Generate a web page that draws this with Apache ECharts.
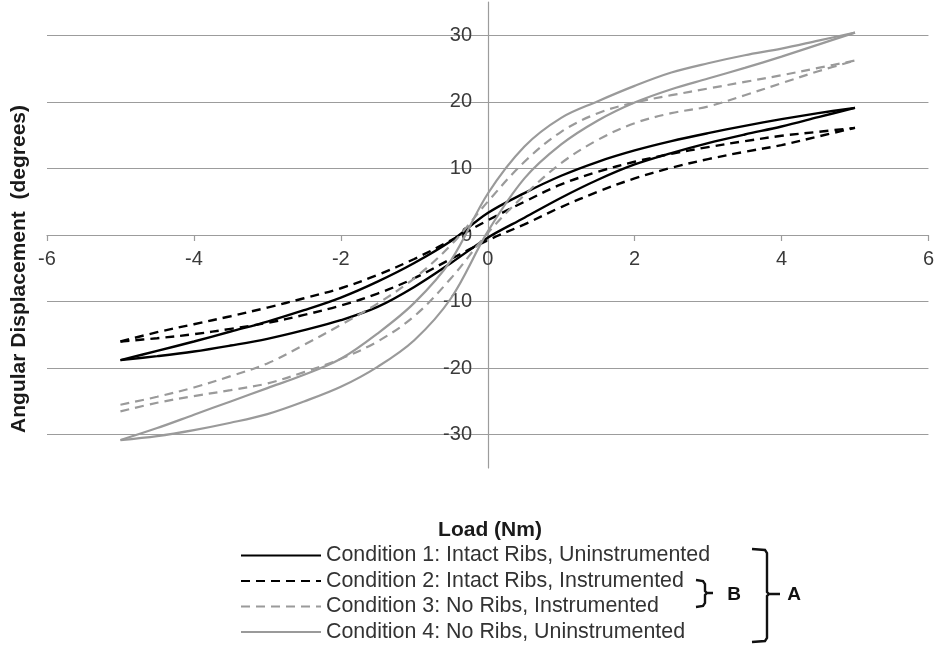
<!DOCTYPE html>
<html>
<head>
<meta charset="utf-8">
<script src="https://cdn.jsdelivr.net/npm/echarts@6/dist/echarts.min.js"></script>
<style>
  html, body { margin: 0; padding: 0; background: #fff; }
  #chart { width: 937px; height: 647px; }
</style>
</head>
<body>
<div id="chart"></div>
<script>
// Applied load steps (Nm), shared by every branch
const loads = [-5, -4.5, -4, -3.5, -3, -2.5, -2, -1.5, -1, -0.5, 0, 0.5, 1, 1.5, 2, 2.5, 3, 3.5, 4, 4.5, 5];

// Angular displacement (degrees) at each load step:
// "loading" = lower branch of the loop, "unloading" = upper branch
const cond1Loading   = [-18.8, -18.2, -17.5, -16.6, -15.6, -14.3, -12.8, -10.8, -7.8, -4.2, -0.4, 2.6, 5.6, 8.3, 10.6, 12.3, 13.8, 15.1, 16.3, 17.7, 19.1];
const cond1Unloading = [-18.8, -17.4, -16.0, -14.5, -13.0, -11.3, -9.4, -7.0, -4.2, -0.9, 3.3, 6.3, 8.9, 11.0, 12.7, 14.1, 15.3, 16.4, 17.4, 18.3, 19.1];

const cond2Loading   = [-16.0, -15.5, -14.9, -14.1, -13.2, -12.0, -10.6, -8.8, -6.5, -3.6, -0.8, 1.6, 4.2, 6.5, 8.5, 10.1, 11.4, 12.5, 13.5, 14.8, 16.1];
const cond2Unloading = [-16.0, -14.6, -13.4, -12.2, -10.9, -9.5, -8.0, -6.0, -3.6, -0.8, 2.2, 5.0, 7.6, 9.5, 11.0, 12.2, 13.2, 14.1, 14.9, 15.5, 16.1];

const cond3Loading   = [-26.5, -25.2, -24.2, -23.3, -22.3, -20.6, -18.6, -16.0, -12.2, -6.5, 0.3, 6.0, 10.8, 14.3, 16.8, 18.3, 19.3, 21.0, 22.8, 24.6, 26.2];
const cond3Unloading = [-25.5, -24.3, -22.9, -21.2, -19.3, -16.5, -13.5, -10.3, -6.5, -1.5, 5.0, 11.0, 15.5, 18.3, 19.9, 21.0, 22.0, 23.0, 24.0, 25.1, 26.2];

const cond4Loading   = [-30.8, -30.2, -29.3, -28.2, -26.9, -25.0, -22.8, -19.8, -15.8, -9.5, 0.5, 8.5, 13.6, 17.2, 19.9, 21.9, 23.5, 25.1, 26.8, 28.6, 30.4];
const cond4Unloading = [-30.8, -29.0, -27.0, -25.0, -23.0, -21.0, -18.6, -14.8, -10.2, -3.8, 6.2, 13.3, 17.6, 20.1, 22.4, 24.4, 25.8, 27.0, 28.0, 29.2, 30.4];

const conditionNames = [
  'Condition 1: Intact Ribs, Uninstrumented',
  'Condition 2: Intact Ribs, Instrumented',
  'Condition 3: No Ribs, Instrumented',
  'Condition 4: No Ribs, Uninstrumented'
];

const xTicks = { min: -6, max: 6, step: 2 };
const yTicks = { min: -35, max: 35, step: 5 };

const FONT = '"Liberation Sans", Arial, sans-serif';
const GRID_GRAY = '#9c9c9c';

// plot box in pixels
const PLOT = { left: 47, top: 2, width: 882, height: 466 };

const pairs = (ys) => loads.map((x, i) => [x, ys[i]]);

const styles = [
  { color: '#000000', type: 'solid', width: 2.4 },
  { color: '#000000', type: [9, 6], width: 2.4 },
  { color: '#9a9a9a', type: [9, 6], width: 2.2 },
  { color: '#9a9a9a', type: 'solid', width: 2.2 }
];

const branches = [
  [cond1Loading, cond1Unloading],
  [cond2Loading, cond2Unloading],
  [cond3Loading, cond3Unloading],
  [cond4Loading, cond4Unloading]
];

const series = [];
branches.forEach((pair, k) => {
  pair.forEach((ys) => {
    series.push({
      name: conditionNames[k],
      type: 'line',
      data: pairs(ys),
      smooth: 0.35,
      symbol: 'none',
      silent: true,
      lineStyle: { color: styles[k].color, type: styles[k].type, width: styles[k].width },
      itemStyle: { color: styles[k].color }
    });
  });
});

// the axes cross at the origin: shift each one from the plot edge to zero
const xZeroShift = -PLOT.height * (0 - yTicks.min) / (yTicks.max - yTicks.min);
const yZeroShift = -PLOT.width * (0 - xTicks.min) / (xTicks.max - xTicks.min);

const chart = echarts.init(document.getElementById('chart'), null, { renderer: 'canvas' });

chart.setOption({
  animation: false,
  backgroundColor: '#ffffff',
  grid: { left: PLOT.left, top: PLOT.top, width: PLOT.width, height: PLOT.height, containLabel: false },
  xAxis: {
    type: 'value',
    position: 'bottom',
    offset: xZeroShift,
    min: xTicks.min, max: xTicks.max, interval: xTicks.step,
    axisLine: { onZero: false, lineStyle: { color: GRID_GRAY, width: 1.2 } },
    axisTick: { show: true, length: 6, inside: false, lineStyle: { color: GRID_GRAY, width: 1.2 } },
    axisLabel: { margin: 14, color: '#3a3a3a', fontSize: 20, fontFamily: FONT },
    splitLine: { show: false }
  },
  yAxis: {
    type: 'value',
    position: 'left',
    offset: yZeroShift,
    min: yTicks.min, max: yTicks.max, interval: yTicks.step,
    axisLine: { onZero: false, lineStyle: { color: GRID_GRAY, width: 1.2 } },
    axisTick: { show: false },
    axisLabel: {
      margin: 16, color: '#3a3a3a', fontSize: 20, fontFamily: FONT,
      showMinLabel: false, showMaxLabel: false,
      formatter: (v) => (Math.abs(v % 10) === 0 ? String(v) : '')
    },
    // every other tick (the multiples of 10) carries a visible grid line
    splitLine: { show: true, lineStyle: { color: ['rgba(0,0,0,0)', GRID_GRAY], width: 1.2 } }
  },
  legend: {
    data: conditionNames,
    orient: 'vertical',
    left: 240,
    top: 543,
    padding: 0,
    itemWidth: 80,
    itemHeight: 12,
    itemGap: 0.5,
    selectedMode: false,
    itemStyle: { opacity: 0 },
    textStyle: { color: '#333333', fontSize: 21.4, fontFamily: FONT, lineHeight: 25 }
  },
  graphic: [
    {
      type: 'text', left: 9, top: 105, rotation: Math.PI / 2,
      style: { text: 'Angular Displacement  (degrees)', fill: '#1a1a1a', font: 'bold 21px ' + FONT }
    },
    {
      type: 'text', x: 490, y: 530,
      style: { text: 'Load (Nm)', fill: '#1a1a1a', font: 'bold 21px ' + FONT, align: 'center', verticalAlign: 'middle' }
    },
    {
      type: 'polyline',
      shape: { points: [[696, 580], [703, 581], [705, 584], [705, 591], [707, 593], [713, 593], [707, 593], [705, 595], [705, 603], [703, 606], [696, 607]] },
      style: { stroke: '#111', lineWidth: 2.4, fill: null }
    },
    {
      type: 'text', x: 734, y: 595,
      style: { text: 'B', fill: '#111', font: 'bold 19px ' + FONT, align: 'center', verticalAlign: 'middle' }
    },
    {
      type: 'polyline',
      shape: { points: [[752, 549], [765, 550], [767, 553], [767, 592], [769, 594], [780, 594], [769, 594], [767, 596], [767, 638], [765, 641], [752, 642]] },
      style: { stroke: '#111', lineWidth: 2.4, fill: null }
    },
    {
      type: 'text', x: 794, y: 595,
      style: { text: 'A', fill: '#111', font: 'bold 19px ' + FONT, align: 'center', verticalAlign: 'middle' }
    }
  ],
  series: series
});
</script>
</body>
</html>
